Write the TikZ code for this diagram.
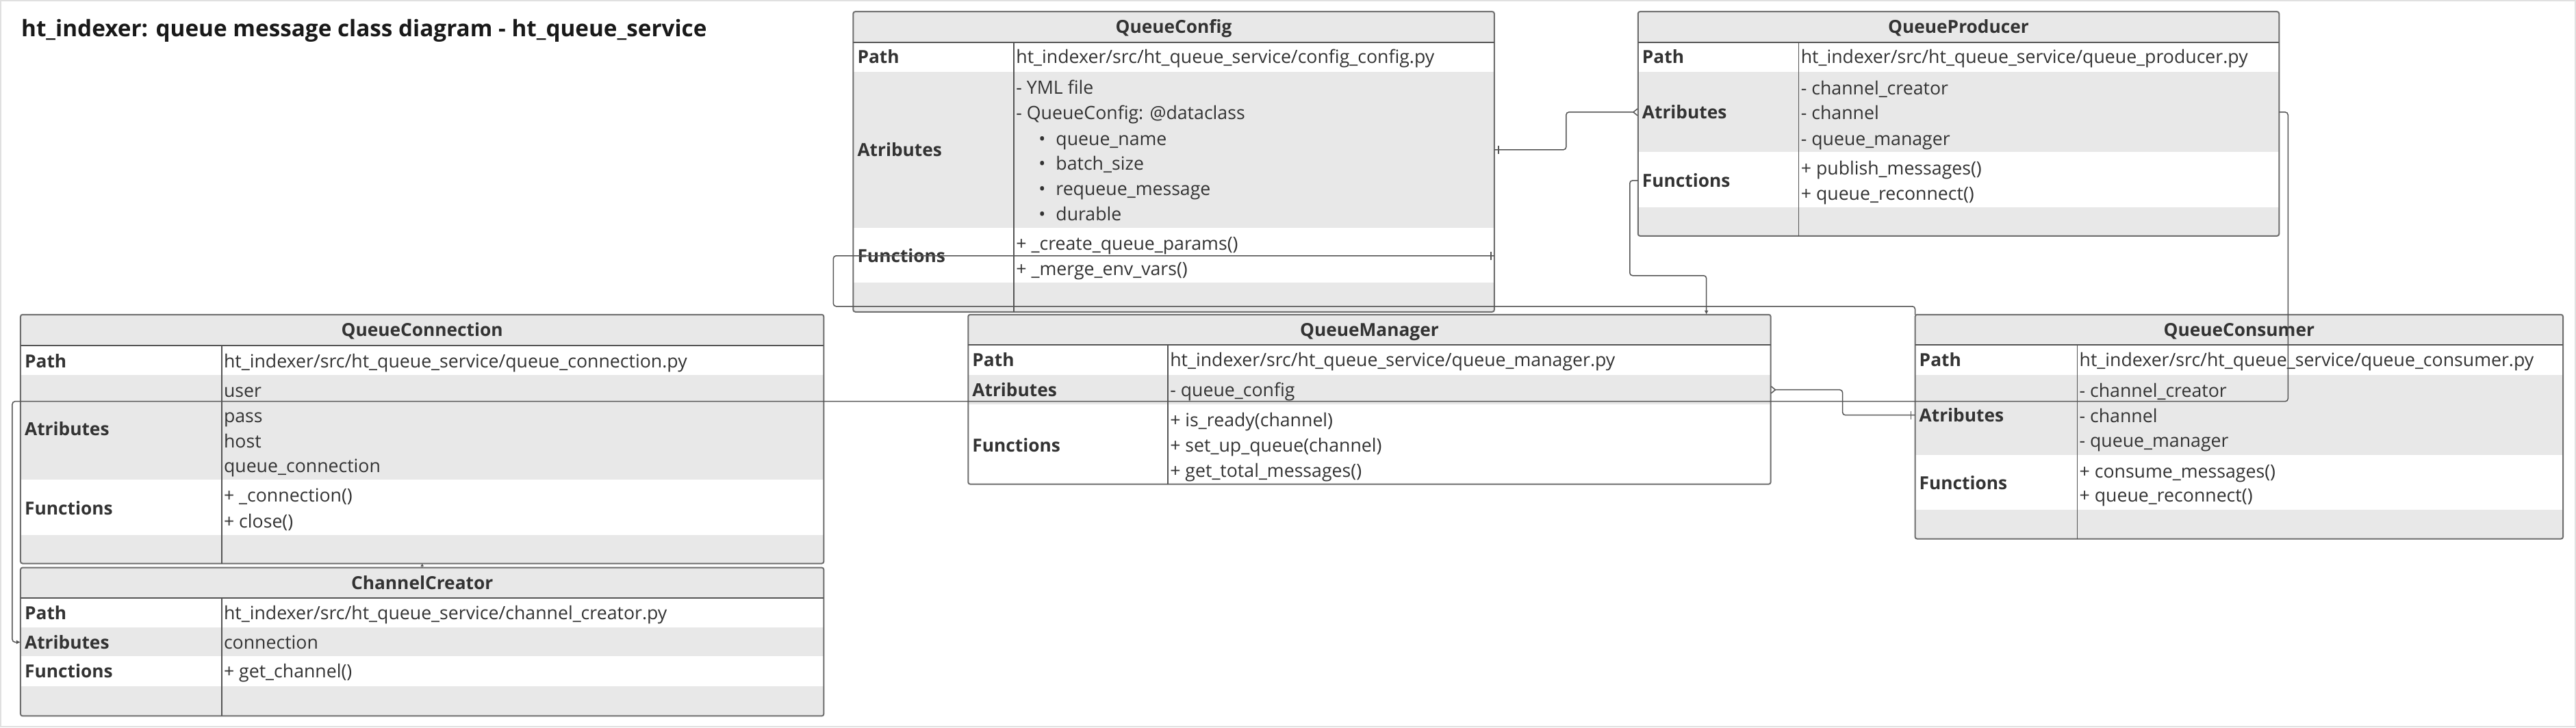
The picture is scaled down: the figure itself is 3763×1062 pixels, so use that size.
\documentclass[tikz,border=0pt]{standalone}
\usepackage{fontspec}
\setmainfont{Open Sans}
\usetikzlibrary{arrows.meta,fit,calc}

\definecolor{rowgray}{HTML}{E8E8E8}
\definecolor{linegray}{HTML}{555555}
\definecolor{txtgray}{HTML}{333333}

\tikzset{
  classbox/.style={draw=linegray!85, line width=2pt, rounded corners=3pt, inner sep=0pt, outer sep=0pt},
  hdr/.style={inner sep=0pt, text height=22pt, text depth=3pt, font=\fontsize{26.3}{32}\selectfont\bfseries, text=txtgray},
  lbl/.style={anchor=west, inner sep=0pt, text height=22pt, text depth=3pt, font=\fontsize{26.3}{32}\selectfont\bfseries, text=txtgray},
  val/.style={anchor=west, inner sep=0pt, text height=22pt, text depth=3pt, font=\fontsize{26.7}{32}\selectfont, text=txtgray},
  conn/.style={draw=linegray, line width=1.5pt, rounded corners=4pt},
  tip/.style={-{Latex[length=6pt,width=6pt]}},
  crow/.style={{Straight Barb[reversed,length=6pt,width=10pt]}-},
  onebar/.style={draw=linegray, line width=1.5pt},
}

% frame of a class: name, x1, y1, x2, y2, divider, header bottom
\newcommand{\classframe}[7]{%
  \fill[rowgray] (#2,#3) rectangle (#4,#7);
  \node[classbox, fit={(#2,#3) (#4,#5)}] (#1) {};
  \draw[linegray, line width=2pt] (#2,#7) -- (#4,#7);
  \draw[linegray, line width=1.5pt] (#6,#7) -- (#6,#5);
}

\begin{document}
\begin{tikzpicture}[x=1pt,y=-1pt]
  \draw[draw=black!12, line width=2pt, fill=white] (0,0) rectangle (3763,1062);
  \useasboundingbox (0,0) rectangle (3763,1062);

  \node[anchor=base west, inner sep=0pt, font=\fontsize{33.3}{38}\selectfont\bfseries, text=black!90] (title) at (30,53)
    {ht\_indexer: queue message class diagram - ht\_queue\_service};

  % QueueConfig
  \fill[rowgray] (1246,104) rectangle (2183,332);
  \fill[rowgray] (1246,412) rectangle (2183,455);
  \classframe{qconfig}{1246}{16}{2183}{455}{1481}{61}
  \node[hdr] (cfgname) at (1714.5,38.5) {QueueConfig};
  \node[lbl] (cfgpath) at (1252,82.5) {Path};
  \node[val] (cfgfile) at (1484,82.5) {ht\_indexer/src/ht\_queue\_service/config\_config.py};
  \node[lbl] (cfgattr) at (1252,218) {Atributes};
  \node[val] (cfga1) at (1484,127) {- YML file};
  \node[val] (cfga2) at (1484,164) {- QueueConfig: @dataclass};
  \foreach \t/\y [count=\i] in {queue\_name/202, batch\_size/238, requeue\_message/275, durable/312} {
    \node[val] (cfgdot\i) at (1517,\y) {•};
    \node[val] (cfgb\i) at (1542,\y) {\t};
  }
  \node[lbl] (cfgfun) at (1252,373) {Functions};
  \node[val] (cfgf1) at (1484,355) {+ \_create\_queue\_params()};
  \node[val] (cfgf2) at (1484,392) {+ \_merge\_env\_vars()};

  % QueueProducer
  \fill[rowgray] (2393,104) rectangle (3330,221);
  \fill[rowgray] (2393,302) rectangle (3330,344);
  \classframe{qprod}{2393}{16}{3330}{344}{2628}{61}
  \node[hdr] (prodname) at (2861.5,38.5) {QueueProducer};
  \node[lbl] (prodpath) at (2399,82.5) {Path};
  \node[val] (prodfile) at (2631,82.5) {ht\_indexer/src/ht\_queue\_service/queue\_producer.py};
  \node[lbl] (prodattr) at (2399,163) {Atributes};
  \node[val] (proda1) at (2631,128) {- channel\_creator};
  \node[val] (proda2) at (2631,164) {- channel};
  \node[val] (proda3) at (2631,202) {- queue\_manager};
  \node[lbl] (prodfun) at (2399,263) {Functions};
  \node[val] (prodf1) at (2631,245) {+ publish\_messages()};
  \node[val] (prodf2) at (2631,282) {+ queue\_reconnect()};

  % QueueManager
  \fill[rowgray] (1414,547) rectangle (2587,590);
  \classframe{qman}{1414}{459}{2587}{707}{1706}{503}
  \node[hdr] (manname) at (2000.5,481) {QueueManager};
  \node[lbl] (manpath) at (1420,525) {Path};
  \node[val] (manfile) at (1709,525) {ht\_indexer/src/ht\_queue\_service/queue\_manager.py};
  \node[lbl] (manattr) at (1420,569) {Atributes};
  \node[val] (mana1) at (1709,569) {- queue\_config};
  \node[lbl] (manfun) at (1420,650) {Functions};
  \node[val] (manf1) at (1709,613) {+ is\_ready(channel)};
  \node[val] (manf2) at (1709,650) {+ set\_up\_queue(channel)};
  \node[val] (manf3) at (1709,687) {+ get\_total\_messages()};

  % QueueConnection
  \fill[rowgray] (29,547) rectangle (1203,700);
  \fill[rowgray] (29,781) rectangle (1203,823);
  \classframe{qconn}{29}{459}{1203}{823}{323}{504}
  \node[hdr] (connname) at (616,481.5) {QueueConnection};
  \node[lbl] (connpath) at (35,527) {Path};
  \node[val] (connfile) at (326,527) {ht\_indexer/src/ht\_queue\_service/queue\_connection.py};
  \node[lbl] (connattr) at (35,626) {Atributes};
  \node[val] (conna1) at (326,570) {user};
  \node[val] (conna2) at (326,607) {pass};
  \node[val] (conna3) at (326,644) {host};
  \node[val] (conna4) at (326,680) {queue\_connection};
  \node[lbl] (connfun) at (35,742) {Functions};
  \node[val] (connf1) at (326,723) {+ \_connection()};
  \node[val] (connf2) at (326,761) {+ close()};

  % ChannelCreator
  \fill[rowgray] (29,916) rectangle (1203,959);
  \fill[rowgray] (29,1003) rectangle (1203,1046);
  \classframe{qcc}{29}{829}{1203}{1046}{323}{873}
  \node[hdr] (ccname) at (616,851) {ChannelCreator};
  \node[lbl] (ccpath) at (35,895) {Path};
  \node[val] (ccfile) at (326,895) {ht\_indexer/src/ht\_queue\_service/channel\_creator.py};
  \node[lbl] (ccattr) at (35,938) {Atributes};
  \node[val] (cca1) at (326,938) {connection};
  \node[lbl] (ccfun) at (35,981) {Functions};
  \node[val] (ccf1) at (326,981) {+ get\_channel()};

  % QueueConsumer
  \fill[rowgray] (2798,547) rectangle (3745,664);
  \fill[rowgray] (2798,744) rectangle (3745,787);
  \classframe{qcons}{2798}{459}{3745}{787}{3035}{503}
  \node[hdr] (consname) at (3271.5,481) {QueueConsumer};
  \node[lbl] (conspath) at (2804,525) {Path};
  \node[val] (consfile) at (3038,525) {ht\_indexer/src/ht\_queue\_service/queue\_consumer.py};
  \node[lbl] (consattr) at (2804,606) {Atributes};
  \node[val] (consa1) at (3038,570) {- channel\_creator};
  \node[val] (consa2) at (3038,607) {- channel};
  \node[val] (consa3) at (3038,643) {- queue\_manager};
  \node[lbl] (consfun) at (2804,705) {Functions};
  \node[val] (consf1) at (3038,688) {+ consume\_messages()};
  \node[val] (consf2) at (3038,723) {+ queue\_reconnect()};

  % connectors
  \draw[conn, crow] (qprod.west |- prodattr) -- ++(-105,0) |- (qconfig.east |- cfgattr);
  \draw[onebar] ($(qconfig.east |- cfgattr)+(6,-6)$) -- ++(0,12);

  \draw[conn, crow] (qman.east |- manattr) -- ++(105,0) |- (qcons.west |- consattr);
  \draw[onebar] ($(qcons.west |- consattr)+(-6,-6)$) -- ++(0,12);

  \draw[conn, tip] (qprod.west |- prodfun) -- ++(-12,0) -- ++(0,139) -| ([xshift=-94pt]qman.north east);

  \draw[conn] (qconfig.east |- cfgfun) -- ++(-966,0) -- ++(0,74) -| (qcons.north west);
  \draw[onebar] ($(qconfig.east |- cfgfun)+(-5,-6)$) -- ++(0,12);

  \draw[conn, tip] (qprod.east |- prodattr) -- ++(13,0) -- ++(0,423) -- (17,586) |- (qcc.west |- ccattr);

  \draw[conn, -{Latex[length=4pt,width=5pt]}] (qcc.north) -- (qconn.south);
\end{tikzpicture}
\end{document}
